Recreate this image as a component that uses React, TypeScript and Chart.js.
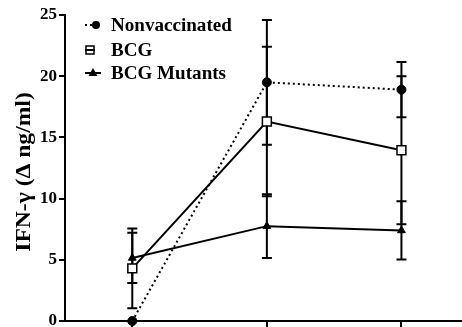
import React, { useEffect, useRef } from 'react';
import { Chart, registerables } from 'chart.js';

Chart.register(...registerables);

// ---- data ----
const xPositions = [0, 1, 2];
const nonvaccinatedMean = [0, 19.5, 18.9];
const nonvaccinatedErr = [0, 5.1, 2.25];
const bcgMean = [4.3, 16.3, 13.95];
const bcgErr = [3.25, 6.1, 6.05];
const mutantsMean = [5.15, 7.75, 7.4];
const mutantsErr = [2.05, 2.6, 2.38];
const legendLabels = ['Nonvaccinated', 'BCG', 'BCG Mutants'];
const yAxisTitle = 'IFN-γ (Δ ng/ml)';

const FONT = '"Liberation Serif", "Times New Roman", serif';

const toPoints = (ys: number[]) => xPositions.map((x, i) => ({ x, y: ys[i] }));

const errorBarPlugin = {
  id: 'errorBars',
  beforeDatasetsDraw(chart: any) {
    const { ctx, scales } = chart;
    const xs = scales.x;
    const ys = scales.y;
    ctx.save();
    ctx.strokeStyle = '#000';
    ctx.lineWidth = 2;
    chart.data.datasets.forEach((ds: any) => {
      ds.data.forEach((p: any, i: number) => {
        const e = ds.errors[i];
        if (!e) return;
        const px = xs.getPixelForValue(p.x);
        const top = ys.getPixelForValue(p.y + e);
        const bot = ys.getPixelForValue(p.y - e);
        ctx.beginPath();
        ctx.moveTo(px, top);
        ctx.lineTo(px, bot);
        ctx.moveTo(px - 5, top);
        ctx.lineTo(px + 5, top);
        ctx.moveTo(px - 5, bot);
        ctx.lineTo(px + 5, bot);
        ctx.stroke();
      });
    });
    ctx.restore();
  },
};

const legendPlugin = {
  id: 'customLegend',
  afterDraw(chart: any) {
    const { ctx, chartArea } = chart;
    const rowsY = [25, 50, 73];
    const symX = 93;
    const textX = 111;
    ctx.save();
    ctx.strokeStyle = '#000';
    ctx.fillStyle = '#000';
    ctx.lineWidth = 2;
    rowsY.forEach((y, i) => {
      ctx.beginPath();
      if (i === 0) {
        ctx.setLineDash([2, 3]);
        ctx.moveTo(85, y);
        ctx.lineTo(93, y);
        ctx.stroke();
        ctx.setLineDash([]);
        ctx.beginPath();
        ctx.arc(96, y, 4, 0, Math.PI * 2);
        ctx.fill();
      } else if (i === 1) {
        ctx.moveTo(85, y);
        ctx.lineTo(95, y);
        ctx.stroke();
        ctx.lineWidth = 1.5;
        ctx.strokeRect(86, y - 4, 8, 8);
        ctx.lineWidth = 2;
      } else {
        ctx.moveTo(85, y);
        ctx.lineTo(101, y);
        ctx.stroke();
        ctx.beginPath();
        ctx.moveTo(symX, y - 5);
        ctx.lineTo(symX + 4.5, y + 3);
        ctx.lineTo(symX - 4.5, y + 3);
        ctx.closePath();
        ctx.fill();
      }
      ctx.save();
      ctx.translate(textX, y + 1);
      ctx.scale(1.06, 1);
      ctx.font = `bold 18px ${FONT}`;
      ctx.textBaseline = 'middle';
      ctx.textAlign = 'left';
      ctx.fillText(legendLabels[i], 0, 0);
      ctx.restore();
    });

    // y-axis title (rotated, slightly stretched along its length)
    ctx.save();
    ctx.translate(25, (chartArea.top + chartArea.bottom) / 2 + 4);
    ctx.rotate(-Math.PI / 2);
    ctx.scale(1.18, 1);
    ctx.font = `bold 20px ${FONT}`;
    ctx.textAlign = 'center';
    ctx.textBaseline = 'middle';
    ctx.fillText(yAxisTitle, 0, 0);
    ctx.restore();
    ctx.restore();
  },
};

export default function App() {
  const canvasRef = useRef<HTMLCanvasElement | null>(null);

  useEffect(() => {
    document.body.style.margin = '0';
    const canvas = canvasRef.current;
    if (!canvas) return;
    const chart = new Chart(canvas, {
      type: 'line',
      data: {
        datasets: [
          {
            label: legendLabels[0],
            data: toPoints(nonvaccinatedMean),
            errors: nonvaccinatedErr,
            borderColor: '#000',
            borderWidth: 2,
            borderDash: [2, 3],
            pointStyle: 'circle',
            pointRadius: 4.5,
            pointBackgroundColor: '#000',
            pointBorderColor: '#000',
            pointBorderWidth: 1,
            clip: false,
          } as any,
          {
            label: legendLabels[1],
            data: toPoints(bcgMean),
            errors: bcgErr,
            borderColor: '#000',
            borderWidth: 2,
            pointStyle: 'rect',
            pointRadius: 6.3,
            pointBackgroundColor: '#fff',
            pointBorderColor: '#000',
            pointBorderWidth: 1.5,
            clip: false,
          } as any,
          {
            label: legendLabels[2],
            data: toPoints(mutantsMean),
            errors: mutantsErr,
            borderColor: '#000',
            borderWidth: 2,
            pointStyle: 'triangle',
            pointRadius: 4.5,
            pointBackgroundColor: '#000',
            pointBorderColor: '#000',
            pointBorderWidth: 1,
            clip: false,
          } as any,
        ],
      },
      options: {
        responsive: false,
        animation: false,
        layout: { autoPadding: false, padding: { top: 15, right: 0, left: 0, bottom: 0 } },
        plugins: {
          legend: { display: false },
          tooltip: { enabled: false },
        },
        scales: {
          x: {
            type: 'linear',
            min: -0.5,
            max: 2.45,
            afterBuildTicks: (s: any) => {
              s.ticks = xPositions.map((v) => ({ value: v }));
            },
            ticks: { display: false },
            grid: {
              drawOnChartArea: false,
              drawTicks: true,
              tickLength: 7,
              color: '#000',
              lineWidth: 2,
            },
            border: { color: '#000', width: 2 },
            afterFit: (s: any) => {
              s.height = 6;
              s.paddingLeft = 0;
              s.paddingRight = 0;
              s.paddingTop = 0;
              s.paddingBottom = 0;
            },
          },
          y: {
            min: 0,
            max: 25,
            ticks: {
              stepSize: 5,
              color: '#000',
              padding: 2,
              font: { family: FONT, size: 17, weight: 'bold' },
            },
            grid: {
              drawOnChartArea: false,
              tickLength: 6,
              color: '#000',
              lineWidth: 2,
            },
            border: { color: '#000', width: 2 },
            afterFit: (s: any) => {
              s.width = 65;
              s.paddingTop = 0;
              s.paddingBottom = 0;
              s.paddingLeft = 0;
              s.paddingRight = 0;
            },
          },
        },
      } as any,
      plugins: [errorBarPlugin, legendPlugin],
    });
    return () => chart.destroy();
  }, []);

  return (
    <div style={{ width: 462, height: 327 }}>
      <canvas ref={canvasRef} width={462} height={327} style={{ display: 'block' }} />
    </div>
  );
}
